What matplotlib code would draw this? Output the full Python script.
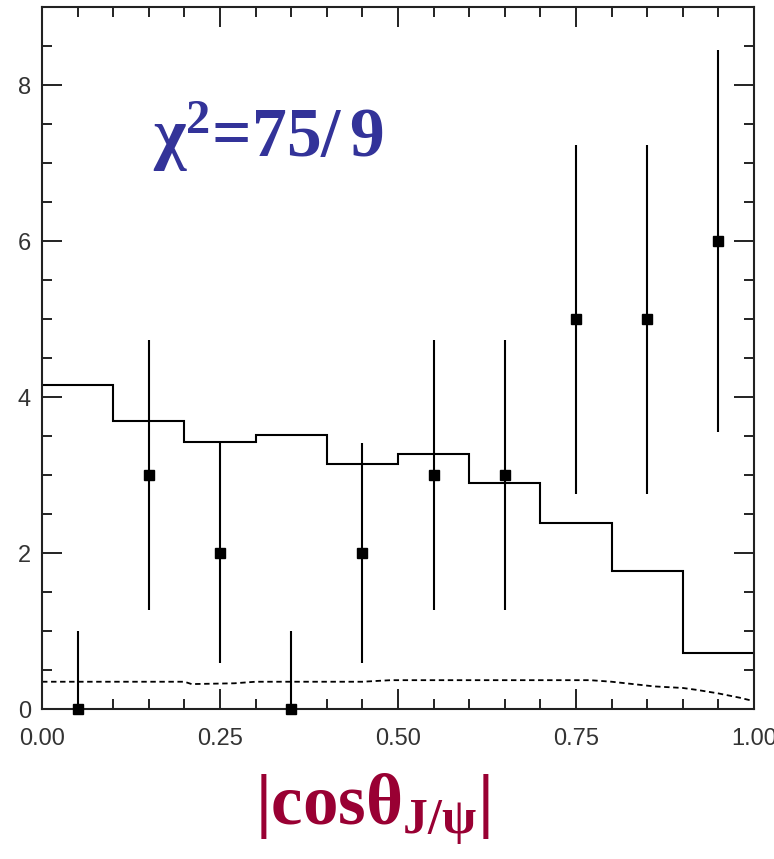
import numpy as np
import matplotlib
matplotlib.use("Agg")
import matplotlib.pyplot as plt
from matplotlib.ticker import MultipleLocator

plt.rcParams["mathtext.fontset"] = "custom"
plt.rcParams["mathtext.rm"] = "Liberation Serif:bold"
plt.rcParams["mathtext.bf"] = "Liberation Serif:bold"
plt.rcParams["mathtext.it"] = "Liberation Serif:bold"

# Data
bin_edges = [0.0, 0.1, 0.2, 0.3, 0.4, 0.5, 0.6, 0.7, 0.8, 0.9, 1.0]
bin_centers = [0.05, 0.15, 0.25, 0.35, 0.45, 0.55, 0.65, 0.75, 0.85, 0.95]
data_counts = [0, 3, 2, 0, 2, 3, 3, 5, 5, 6]
err_low = [0.0, 1.73, 1.41, 0.0, 1.41, 1.73, 1.73, 2.24, 2.24, 2.45]
err_high = [1.0, 1.73, 1.41, 1.0, 1.41, 1.73, 1.73, 2.24, 2.24, 2.45]
model_hist = [4.16, 3.69, 3.42, 3.51, 3.14, 3.27, 2.90, 2.38, 1.77, 0.72]

bkg_x = [0.0, 0.05, 0.10, 0.15, 0.20, 0.21, 0.27, 0.30, 0.35, 0.40, 0.45, 0.49,
         0.55, 0.60, 0.65, 0.70, 0.77, 0.80, 0.83, 0.86, 0.90, 0.92, 0.95, 0.98, 1.00]
bkg_y = [0.35, 0.35, 0.35, 0.35, 0.35, 0.32, 0.33, 0.35, 0.35, 0.35, 0.35, 0.37,
         0.37, 0.37, 0.37, 0.37, 0.37, 0.35, 0.32, 0.29, 0.27, 0.245, 0.20, 0.145, 0.10]

xticks = [0.0, 0.25, 0.5, 0.75, 1.0]
xticklabels = ["0.00", "0.25", "0.50", "0.75", "1.00"]
yticks = [0, 2, 4, 6, 8]

chi_label = r"$\mathbf{\chi^{2}}$=75/$\,$9"
x_label = r"$\mathbf{|cos\theta_{J/\psi}|}$"

fig = plt.figure(figsize=(7.74, 8.59), dpi=100)
ax = fig.add_axes([0.0543, 0.1746, 0.9199, 0.8167])

# histogram (solid)
ax.stairs(model_hist, bin_edges, color="black", linewidth=1.5, baseline=None)
# background (dashed)
ax.plot(bkg_x, bkg_y, color="black", linewidth=1.3, linestyle=(0, (3, 2)))
# data points
ax.errorbar(bin_centers, data_counts, yerr=[err_low, err_high], fmt="s",
            color="black", markersize=6.5, elinewidth=1.5, capsize=0,
            clip_on=False, zorder=5)

ax.set_xlim(0, 1)
ax.set_ylim(0, 9)
ax.set_xticks(xticks)
ax.set_xticklabels(xticklabels)
ax.set_yticks(yticks)
ax.xaxis.set_minor_locator(MultipleLocator(0.05))
ax.yaxis.set_minor_locator(MultipleLocator(0.5))
ax.tick_params(which="both", direction="in", top=True, right=True,
               width=1.4, colors="#222222", labelcolor="#333333", labelsize=17,
               labelfontfamily="Liberation Sans")
ax.tick_params(which="major", length=14.5)
ax.tick_params(which="minor", length=7.5)
ax.tick_params(axis="x", which="major", pad=14)
ax.tick_params(axis="y", which="major", pad=8)
for s in ax.spines.values():
    s.set_linewidth(1.5)
    s.set_color("#222222")

ax.text(0.156, 7.08, chi_label, fontsize=50, color="#333399",
        fontfamily="Liberation Serif", fontweight="bold", va="baseline", ha="left")

fig.text(0.481, 0.04, x_label, fontsize=51, color="#990033",
         fontfamily="Liberation Serif", fontweight="bold", va="baseline", ha="center")

fig.savefig("out.png", dpi=100)
